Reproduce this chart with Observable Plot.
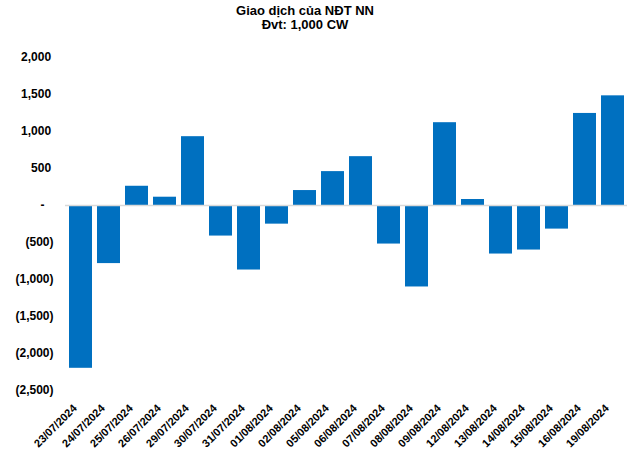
<!DOCTYPE html>
<html>
<head>
<meta charset="utf-8">
<script src="https://cdn.jsdelivr.net/npm/d3@7"></script>
<script src="https://cdn.jsdelivr.net/npm/@observablehq/plot@0.6"></script>
<style>
  html, body { margin: 0; padding: 0; background: #fff; }
  #wrap { position: relative; width: 640px; height: 452px; font-family: "Liberation Sans", Arial, sans-serif; }
  #title { position: absolute; left: 0; top: 0; width: 610px; text-align: center; font-weight: bold; font-size: 13px; line-height: 14px; padding-top: 3.5px; color: #000; }
  #chart { position: absolute; left: 0; top: 0; }
  #chart svg text { fill: #000; }
</style>
</head>
<body>
<div id="wrap">
  <div id="chart"></div>
  <div id="title">Giao dịch của NĐT NN<br>Đvt: 1,000 CW</div>
</div>
<script>
const dates = ["23/07/2024","24/07/2024","25/07/2024","26/07/2024","29/07/2024","30/07/2024","31/07/2024","01/08/2024","02/08/2024","05/08/2024","06/08/2024","07/08/2024","08/08/2024","09/08/2024","12/08/2024","13/08/2024","14/08/2024","15/08/2024","16/08/2024","19/08/2024"];
const values = [-2200, -785, 260, 112, 930, -413, -872, -252, 202, 458, 660, -521, -1101, 1119, 81, -656, -602, -319, 1244, 1482];
const yTicks = [-2500, -2000, -1500, -1000, -500, 0, 500, 1000, 1500, 2000];

const data = dates.map((d, i) => ({date: d, value: values[i]}));

const fmt = v => {
  if (v === 0) return "-\u2007\u2009";
  const s = d3.format(",")(Math.abs(v));
  return v < 0 ? `(${s})` : s + "\u2009";
};

const chart = Plot.plot({
  width: 640,
  height: 452,
  marginTop: 57,
  marginBottom: 62,
  marginLeft: 65,
  marginRight: 13,
  style: {fontFamily: "'Liberation Sans', Arial, sans-serif", background: "transparent", color: "#000"},
  x: {domain: dates, paddingInner: 0.18, paddingOuter: 0.09, label: null},
  y: {domain: [-2500, 2000], label: null},
  marks: [
    Plot.barY(data, {x: "date", y: "value", fill: "#0070C0"}),
    Plot.ruleY([0], {stroke: "#d9d9d9", strokeWidth: 1.5}),
    Plot.axisY({ticks: yTicks, tickFormat: fmt, tickSize: 0, tickPadding: 12, fontSize: 12, fontWeight: "bold", label: null}),
    Plot.axisX({tickRotate: -45, tickSize: 0, tickPadding: 10, dx: -6, dy: 6, fontSize: 11, fontWeight: "bold", label: null})
  ]
});
document.getElementById("chart").appendChild(chart);
</script>
</body>
</html>
